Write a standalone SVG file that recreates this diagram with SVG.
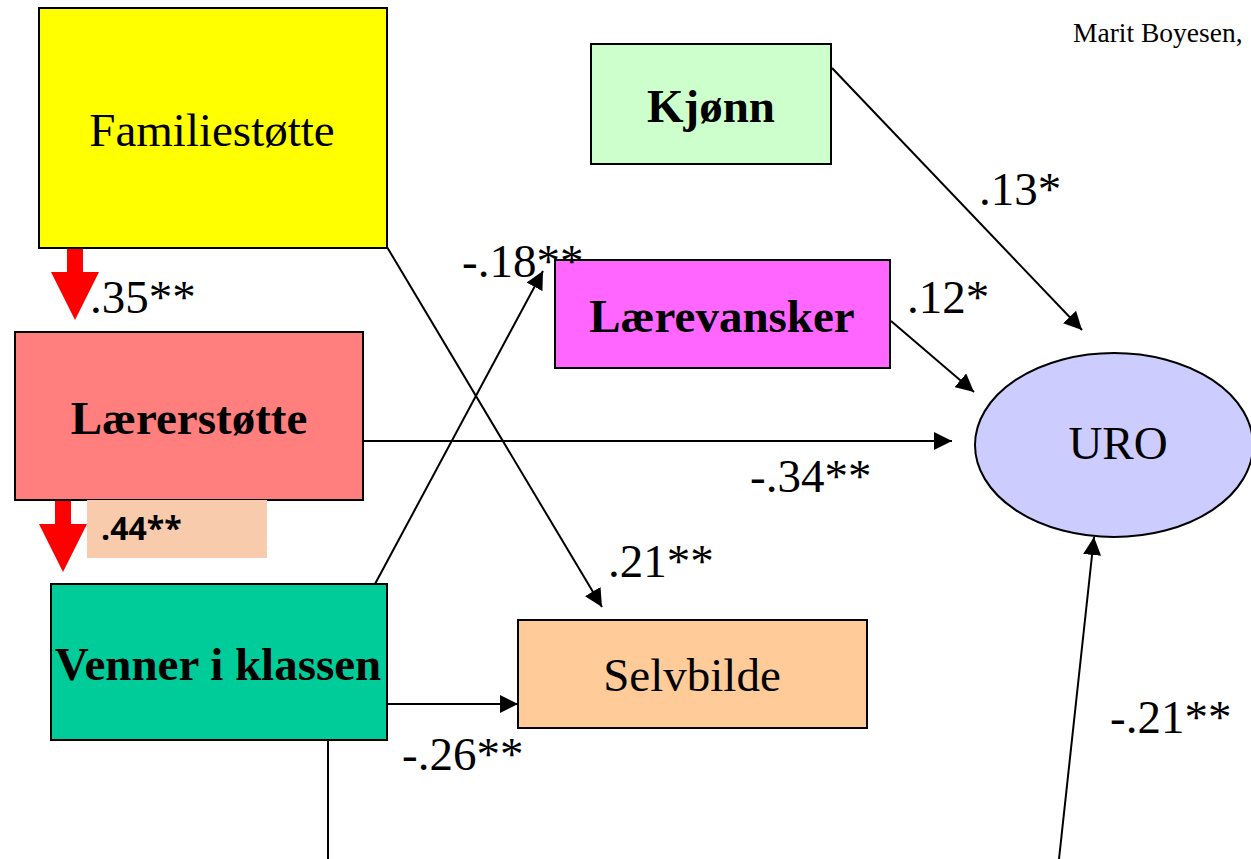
<svg xmlns="http://www.w3.org/2000/svg" width="1251" height="859" viewBox="0 0 1251 859">
<style>
.box{stroke:#000;stroke-width:2}
.t{font-family:"Liberation Serif","Times New Roman",serif;font-size:47px;fill:#000}
.b{font-weight:bold}
.lbl{font-family:"Liberation Serif","Times New Roman",serif;font-size:47px;fill:#000}
.con{stroke:#000;stroke-width:2;fill:none}
</style>
<defs>
<marker id="ahL" viewBox="0 0 10 10" refX="10" refY="5" markerWidth="18" markerHeight="18" markerUnits="userSpaceOnUse" orient="auto">
<path d="M0,0 L10,5 L0,10 z" fill="#000"/>
</marker>
</defs>
<rect width="1251" height="859" fill="#fff"/>

<text x="1073" y="42" style="font-family:'Liberation Serif','Times New Roman',serif;font-size:27.5px">Marit Boyesen,</text>

<g id="connectors">
<line class="con" x1="387" y1="247" x2="602" y2="607" marker-end="url(#ahL)"/>
<line class="con" x1="375" y1="584" x2="543" y2="271" marker-end="url(#ahL)"/>
<line class="con" x1="363" y1="441" x2="952" y2="441" marker-end="url(#ahL)"/>
<line class="con" x1="832" y1="68" x2="1082" y2="330" marker-end="url(#ahL)"/>
<line class="con" x1="891" y1="321" x2="974" y2="392" marker-end="url(#ahL)"/>
<line class="con" x1="387" y1="704" x2="518" y2="704" marker-end="url(#ahL)"/>
<line class="con" x1="328" y1="740" x2="328" y2="859"/>
<line class="con" x1="1059" y1="859" x2="1094" y2="537" marker-end="url(#ahL)"/>
<path d="M67,248 H83 V272 H99 L75,320 L51,272 H67 Z" fill="#ff0000"/>
<path d="M55,500 H71 V524 H87 L63,572 L39,524 H55 Z" fill="#ff0000"/>
</g>

<g id="familiestotte">
<rect class="box" x="39" y="8" width="348" height="240" fill="#ffff00"/>
<text class="t" x="212" y="146" text-anchor="middle">Familiestøtte</text>
</g>
<g id="kjonn">
<rect class="box" x="591" y="44" width="240" height="120" fill="#ccffcc"/>
<text class="t b" x="711" y="122" text-anchor="middle">Kjønn</text>
</g>
<g id="laerevansker">
<rect class="box" x="555" y="260" width="335" height="108" fill="#ff66ff"/>
<text class="t b" x="722" y="332" text-anchor="middle">Lærevansker</text>
</g>
<g id="laererstotte">
<rect class="box" x="15" y="332" width="348" height="168" fill="#ff7f7f"/>
<text class="t b" x="189" y="434" text-anchor="middle">Lærerstøtte</text>
</g>
<g id="label44">
<rect x="87" y="500" width="180" height="58" fill="#f8cbad"/>
<text x="101" y="540" style="font-family:'Open Sans','Liberation Sans',sans-serif;font-weight:bold;font-size:32px">.44**</text>
</g>
<g id="venner">
<rect class="box" x="51" y="584" width="336" height="156" fill="#00cc99"/>
<text class="t b" x="218" y="680" text-anchor="middle">Venner i klassen</text>
</g>
<g id="selvbilde">
<rect class="box" x="518" y="620" width="349" height="108" fill="#ffcc99"/>
<text class="t" x="692" y="691" text-anchor="middle">Selvbilde</text>
</g>
<g id="uro">
<ellipse class="box" cx="1114" cy="445" rx="139" ry="92" fill="#ccccff"/>
<text class="t" x="1118" y="459" text-anchor="middle">URO</text>
</g>

<g id="labels">
<text class="lbl" x="90" y="313">.35**</text>
<text class="lbl" x="462" y="277">-.18**</text>
<text class="lbl" x="979" y="205">.13*</text>
<text class="lbl" x="907" y="313">.12*</text>
<text class="lbl" x="750" y="492">-.34**</text>
<text class="lbl" x="608" y="577">.21**</text>
<text class="lbl" x="402" y="770">-.26**</text>
<text class="lbl" x="1110" y="733">-.21**</text>
</g>
</svg>
